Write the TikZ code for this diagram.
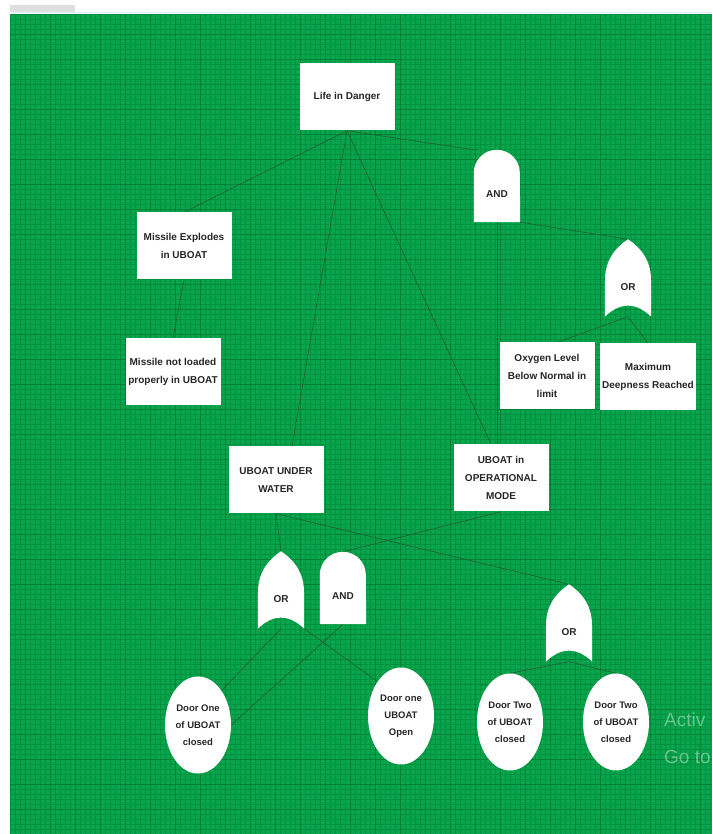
\documentclass[tikz,border=0pt]{standalone}
\usepackage{fontspec}
\setmainfont{Liberation Sans}
\usetikzlibrary{shapes.geometric,positioning,calc}

\definecolor{sheet}{RGB}{8,165,76}
\definecolor{gridln}{RGB}{0,146,62}
\definecolor{gridmj}{RGB}{0,128,52}
\definecolor{linkc}{RGB}{40,92,52}
\definecolor{txt}{RGB}{38,38,38}

\pgfdeclarelayer{bg}
\pgfdeclarelayer{links}
\pgfsetlayers{bg,links,main}

% gates: frame node (for anchors), white outline, label
\newcommand{\andgate}[3]{%
  \node[gatefrm] (#1) at (#2) {};
  \fill[white] (#1.south west) -- ([yshift=-23pt]#1.north west)
    arc[start angle=180,end angle=0,radius=23pt] -- (#1.south east) -- cycle;
  \node[gatelbl] (#1-lbl) at ([yshift=-8pt]#1.center) {#3};}
\newcommand{\orgate}[3]{%
  \node[gatefrm,minimum height=77pt] (#1) at (#2) {};
  \fill[white] (#1.south west) -- ([shift={(-23pt,-2pt)}]#1.center)
    .. controls ([shift={(-23pt,20pt)}]#1.center) and ([shift={(-10pt,32pt)}]#1.center) .. (#1.north)
    .. controls ([shift={(10pt,32pt)}]#1.center) and ([shift={(23pt,20pt)}]#1.center) .. ([shift={(23pt,-2pt)}]#1.center)
    -- (#1.south east)
    .. controls ([shift={(8pt,-24pt)}]#1.center) and ([shift={(-8pt,-24pt)}]#1.center) .. cycle;
  \node[gatelbl] (#1-lbl) at ([yshift=-9pt]#1.center) {#3};}

\begin{document}
\begin{tikzpicture}[x=1pt,y=1pt,
evbox/.style={rectangle,fill=white,minimum width=95pt,minimum height=67pt,inner sep=2pt,
  align=center,text=txt,font=\bfseries\fontsize{10}{18}\selectfont},
doorell/.style={ellipse,fill=white,minimum width=66pt,minimum height=97pt,inner sep=0pt,
  align=center,text=txt,font=\bfseries\fontsize{9.5}{17}\selectfont},
gatefrm/.style={rectangle,minimum width=46pt,minimum height=72pt,inner sep=0pt},
gatelbl/.style={inner sep=1pt,text=txt,font=\bfseries\fontsize{10}{11}\selectfont},
link/.style={draw=linkc,line width=0.6pt},
wmark/.style={anchor=west,inner sep=0pt,text=white,text opacity=0.4,font=\fontsize{19}{22}\selectfont}]
\useasboundingbox (0,0) rectangle (712,834);

\begin{pgfonlayer}{bg}
\fill[white] (0,0) rectangle (712,834);
\fill[gray!25] (10,821) rectangle (75,829);
\draw[cyan!15,line width=1pt] (10,821) -- (712,821);
\fill[sheet] (10,0) rectangle (712,820);
\draw[gridln,line width=0.3pt,step=5] (10,0) grid (712,820);
\draw[gridmj,line width=0.4pt,step=25] (10,0) grid (712,820);
\end{pgfonlayer}

% top events
\node[evbox] (life) at (347,737) {Life in Danger};
\node[evbox] (expl) at (184,588) {Missile Explodes\\in UBOAT};
\node[evbox] (notld) at (173,462) {Missile not loaded\\properly in UBOAT};
\node[evbox] (oxy) at (547,458) {Oxygen Level\\Below Normal in\\limit};
\node[evbox] (maxd) at (648,457) {Maximum\\Deepness Reached};
\node[evbox] (under) at (276,354) {UBOAT UNDER\\WATER};
\node[evbox] (oper) at (501,356) {UBOAT in\\OPERATIONAL\\MODE};

% gates
\andgate{and1}{497,648}{AND}
\orgate{or1}{628,556}{OR}
\orgate{or2}{281,244}{OR}
\andgate{and2}{343,246}{AND}
\orgate{or3}{569,211}{OR}

% basic events
\node[doorell] (d1c) at (198,109) {Door One\\of UBOAT\\closed};
\node[doorell] (d1o) at (401,118) {Door one\\UBOAT\\Open};
\node[doorell] (d2a) at (510,112) {Door Two\\of UBOAT\\closed};
\node[doorell] (d2b) at (616,112) {Door Two\\of UBOAT\\closed};

\node[wmark] (wm1) at (664,114) {Activ};
\node[wmark] (wm2) at (664,77) {Go to};

\begin{pgfonlayer}{links}
\draw[link] (life.south) -- (expl.north);
\draw[link] (life.south) -- ([xshift=16pt]under.north);
\draw[link] (life.south) -- ([xshift=-10pt]oper.north);
\draw[link] (life.south) -- (and1.north west);
\draw[link] (and1.south east) -- (or1.north);
\draw[link] (and1.south) -- (and1.south |- oper.north);
\draw[link] (or1.south) -- ([xshift=10pt]oxy.north);
\draw[link] (or1.south) -- (maxd.north);
\draw[link] (expl.south) -- (notld.north);
\draw[link] (under.south) -- (or2.north);
\draw[link] (under.south) -- (or3.north);
\draw[link] (oper.south) -- (and2.north);
\draw[link] (or2.south) -- (d1c.north east);
\draw[link] (or2.south east) -- (d1o.north west);
\draw[link] (and2.south) -- (d1c.east);
\draw[link] (or3.south) -- (d2a.north);
\draw[link] (or3.south) -- (d2b.north);
\end{pgfonlayer}
\end{tikzpicture}
\end{document}
